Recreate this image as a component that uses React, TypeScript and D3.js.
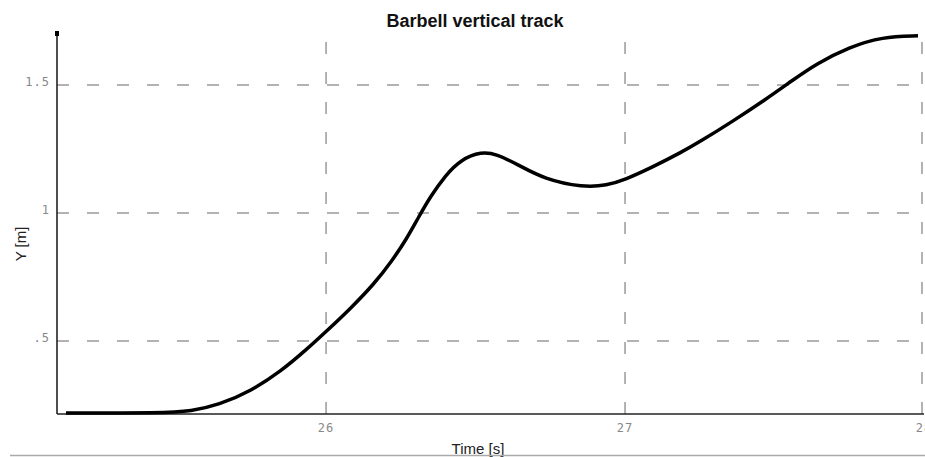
import React from "react";
import * as d3 from "d3";

// Barbell vertical position over time
const timeS = [
  25.13, 25.45, 25.55, 25.64, 25.75, 25.85, 25.93, 26.0, 26.08, 26.16, 26.22,
  26.27, 26.31, 26.35, 26.4, 26.45, 26.52, 26.57, 26.64, 26.73, 26.86, 26.94,
  27.0, 27.09, 27.19, 27.25, 27.36, 27.47, 27.56, 27.64, 27.75, 27.86, 27.98,
];
const heightM = [
  0.219, 0.219, 0.226, 0.25, 0.305, 0.383, 0.462, 0.537, 0.625, 0.722, 0.812,
  0.9, 0.985, 1.066, 1.148, 1.208, 1.24, 1.23, 1.19, 1.132, 1.1, 1.108, 1.13,
  1.178, 1.238, 1.278, 1.358, 1.443, 1.518, 1.583, 1.648, 1.688, 1.692,
];

const xTicks = [26, 27, 28];
const xTickLabels = ["26", "27", "28"];
const yTicks = [0.5, 1, 1.5];
const yTickLabels = [".5", "1", "1.5"];

const W = 925;
const H = 457;
const left = 57;
const right = 924;
const top = 33;
const bottom = 414;

export default function App() {
  const x = d3.scaleLinear().domain([25.1, 28.0]).range([left, right]);
  const y = d3.scaleLinear().domain([0.215, 1.703]).range([bottom, top]);
  const pts: [number, number][] = timeS.map((t, i) => [t, heightM[i]]);
  const line = d3
    .line<[number, number]>()
    .x((d) => x(d[0]))
    .y((d) => y(d[1]))
    .curve(d3.curveBasis);

  const mono = "'DejaVu Sans Mono', 'Liberation Mono', monospace";
  const sans = "'Liberation Sans', Arial, sans-serif";

  return (
    <svg
      width={W}
      height={H}
      style={{ position: "absolute", left: 0, top: 0, background: "#fff" }}
    >
      {/* grid */}
      {yTicks.map((v) => (
        <line
          key={"gy" + v}
          x1={left}
          x2={right}
          y1={y(v)}
          y2={y(v)}
          stroke="#9a9a9a"
          strokeWidth={1.5}
          strokeDasharray="12,18"
        />
      ))}
      {xTicks.map((v) => (
        <line
          key={"gx" + v}
          x1={x(v) - (v === 28 ? 2 : 0)}
          x2={x(v) - (v === 28 ? 2 : 0)}
          y1={bottom}
          y2={top}
          stroke="#9a9a9a"
          strokeWidth={1.5}
          strokeDasharray="12,18"
        />
      ))}

      {/* axes */}
      <line x1={left} x2={left} y1={top} y2={bottom} stroke="#222" strokeWidth={1.6} />
      <line x1={left} x2={right} y1={bottom} y2={bottom} stroke="#222" strokeWidth={1.6} />
      <rect x={left - 2} y={top - 2} width={4} height={5} fill="#000" />

      {/* tick labels */}
      {yTicks.map((v, i) => (
        <text
          key={"ly" + v}
          x={left - 7}
          y={y(v) + 1}
          textAnchor="end"
          fontFamily={mono}
          fontSize={12}
          letterSpacing={1}
          fill="#888"
        >
          {yTickLabels[i]}
        </text>
      ))}
      {xTicks.map((v, i) => (
        <text
          key={"lx" + v}
          x={x(v)}
          y={432}
          textAnchor="middle"
          fontFamily={mono}
          fontSize={12}
          letterSpacing={1}
          fill="#888"
        >
          {xTickLabels[i]}
        </text>
      ))}

      {/* data */}
      <path d={line(pts) || ""} fill="none" stroke="#000" strokeWidth={3.5} strokeLinejoin="round" />

      {/* titles */}
      <text
        x={475}
        y={27}
        textAnchor="middle"
        fontFamily={sans}
        fontWeight="bold"
        fontSize={18}
        fill="#111"
      >
        Barbell vertical track
      </text>
      <text
        transform={`translate(26,244) rotate(-90)`}
        textAnchor="middle"
        fontFamily={sans}
        fontSize={15}
        fill="#222"
      >
        Y [m]
      </text>
      <text x={478} y={454} textAnchor="middle" fontFamily={sans} fontSize={15} fill="#222">
        Time [s]
      </text>
      <line x1={10} x2={925} y1={455.5} y2={455.5} stroke="#aaa" strokeWidth={1.5} />
    </svg>
  );
}
